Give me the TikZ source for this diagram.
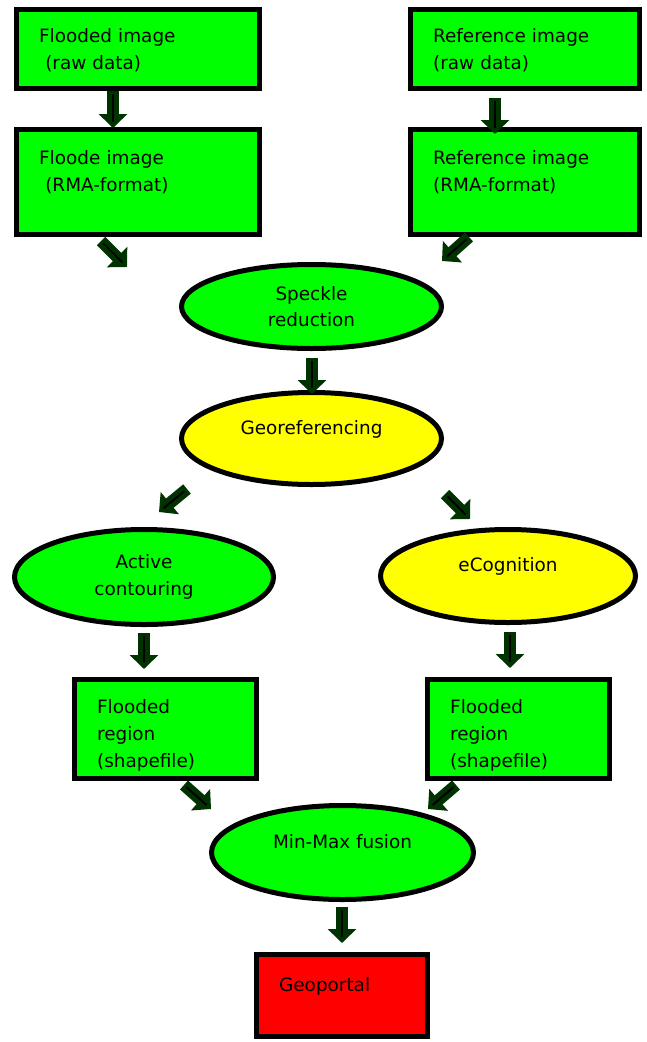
\documentclass[tikz,border=0pt]{standalone}
\usepackage{fontspec}
\setmainfont{DejaVu Sans}
\usetikzlibrary{shapes.geometric,arrows.meta}
\definecolor{fl_green}{HTML}{00FF00}
\definecolor{fl_yellow}{HTML}{FFFF00}
\definecolor{fl_red}{HTML}{FF0000}
\definecolor{fl_arrow}{HTML}{003300}

\begin{document}
\begin{tikzpicture}[x=0.75pt, y=-0.75pt,
        every node/.style={font=\fontsize{13.8}{20}\selectfont},
        box/.style={draw, line width=3.75pt, fill=fl_green, align=left, inner xsep=17pt, inner ysep=0pt},
        oval/.style={ellipse, draw, line width=3.75pt, fill=fl_green, align=center, inner sep=0pt},
        lift/.style={text depth=17pt},
        pipe/.style={draw=fl_arrow, line width=9pt, -{Triangle[width=21pt, length=10.5pt]}},
        core/.style={draw=black, line width=1.5pt, shorten <=2.5pt, shorten >=4.5pt}]
            \useasboundingbox (0,0) rectangle (646,1042);

            \node[box, text width=148.25pt, minimum height=59.25pt, text depth=19.5pt] (raw1) at (138,49) {Flooded image\\~(raw data)};
            \node[box, text width=137.75pt, minimum height=59.25pt, text depth=19.5pt] (raw2) at (525,49) {Reference image\\(raw data)};
            \node[box, text width=148.25pt, minimum height=78.75pt, text depth=36pt] (rma1) at (138,182) {Floode image\\~(RMA-format)};
            \node[box, text width=137.75pt, minimum height=78.75pt, text depth=36pt] (rma2) at (525,182) {Reference image\\(RMA-format)};

            \node[oval, minimum width=195pt, minimum height=63pt] (speckle) at (311.5,306.5) {Speckle\\reduction};
            \node[oval, lift, fill=fl_yellow, minimum width=195pt, minimum height=69pt] (geo) at (311.5,438.5) {Georeferencing};
            \node[oval, minimum width=194.25pt, minimum height=71.25pt] (active) at (144,577) {Active\\contouring};
            \node[oval, lift, fill=fl_yellow, minimum width=191.25pt, minimum height=69.75pt] (ecog) at (508,576) {eCognition};

            \node[box, text width=102.5pt, minimum height=74.25pt, text depth=33pt] (reg1) at (165.5,729) {Flooded\\region\\(shapefile)};
            \node[box, text width=102.5pt, minimum height=74.25pt, text depth=33pt] (reg2) at (518.5,729) {Flooded\\region\\(shapefile)};

            \node[oval, lift, minimum width=196.5pt, minimum height=70.5pt] (fusion) at (342.5,852.5) {Min-Max fusion};
            \node[box, lift, fill=fl_red, text width=94.25pt, minimum height=61.5pt] (portal) at (342,995.5) {Geoportal};

            \coordinate (a1) at (113,91);   \coordinate (b1) at (113,128);
            \coordinate (a2) at (495,98);   \coordinate (b2) at (495,134);
            \coordinate (a3) at (101,241);  \coordinate (b3) at (127,267);
            \coordinate (a4) at (469,237);  \coordinate (b4) at (442,261);
            \coordinate (a5) at (312,358);  \coordinate (b5) at (312,394);
            \coordinate (a6) at (187,489);  \coordinate (b6) at (159,512);
            \coordinate (a7) at (445,494);  \coordinate (b7) at (470,519);
            \coordinate (a8) at (144,633);  \coordinate (b8) at (144,669);
            \coordinate (a9) at (510,632);  \coordinate (b9) at (510,668);
            \coordinate (a10) at (184,785); \coordinate (b10) at (211,809);
            \coordinate (a11) at (456,785); \coordinate (b11) at (428,809);
            \coordinate (a12) at (342,907); \coordinate (b12) at (342,943);

            \foreach \i in {1,...,12} {
                \draw[pipe] (a\i) -- (b\i);
                \draw[core] (a\i) -- (b\i);
            }
        \end{tikzpicture}
\end{document}
